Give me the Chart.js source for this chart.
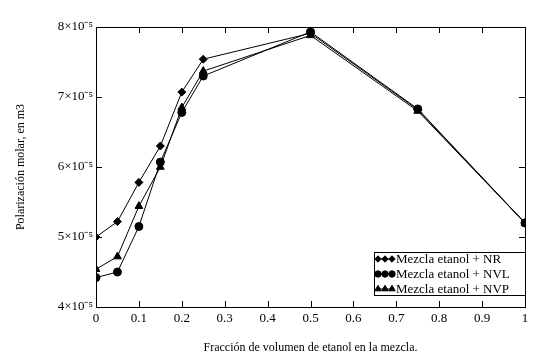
<!DOCTYPE html>
<html>
<head>
<meta charset="utf-8">
<script src="https://cdn.jsdelivr.net/npm/chart.js@4/dist/chart.umd.min.js"></script>
<style>
  body { margin: 0; background: #fff; }
</style>
</head>
<body>
<canvas id="myChart" width="551" height="362"></canvas>
<script>
// fracción de volumen de etanol
var fractions = [0, 0.05, 0.1, 0.15, 0.2, 0.25, 0.5, 0.75, 1];
// polarización molar (m3)
var nrValues  = [5.00e-5, 5.22e-5, 5.78e-5, 6.30e-5, 7.07e-5, 7.54e-5, 7.91e-5, 6.82e-5, 5.20e-5];
var nvlValues = [4.42e-5, 4.50e-5, 5.15e-5, 6.07e-5, 6.78e-5, 7.30e-5, 7.93e-5, 6.83e-5, 5.20e-5];
var nvpValues = [4.54e-5, 4.72e-5, 5.44e-5, 6.00e-5, 6.85e-5, 7.37e-5, 7.88e-5, 6.80e-5, 5.20e-5];
var seriesNames = ['Mezcla etanol + NR', 'Mezcla etanol + NVL', 'Mezcla etanol + NVP'];
var yTickLabels = ['4×10⁻⁵', '5×10⁻⁵', '6×10⁻⁵', '7×10⁻⁵', '8×10⁻⁵'];

var serif = "'Liberation Serif', 'Times New Roman', serif";

function pts(values) {
    return fractions.map(function (f, i) { return { x: f, y: values[i] }; });
}

function series(label, values, style, radius) {
    return {
        label: label,
        data: pts(values),
        borderColor: '#000',
        backgroundColor: '#000',
        borderWidth: 1,
        pointStyle: style,
        pointRadius: radius,
        pointBorderWidth: 1,
        tension: 0
    };
}

// marco, marcas de escala hacia dentro y leyenda dentro del área
var framePlugin = {
    id: 'framePlugin',
    afterDraw: function (chart) {
        var ctx = chart.ctx;
        var a = chart.chartArea;
        var xs = chart.scales.x, ys = chart.scales.y;
        ctx.save();
        ctx.strokeStyle = '#000';
        ctx.lineWidth = 1;
        ctx.strokeRect(Math.round(a.left) + 0.5, Math.round(a.top) + 0.5,
            Math.round(a.right - a.left), Math.round(a.bottom - a.top));
        ctx.beginPath();
        xs.ticks.forEach(function (t) {
            var px = Math.round(xs.getPixelForValue(t.value)) + 0.5;
            ctx.moveTo(px, a.bottom); ctx.lineTo(px, a.bottom - 6);
            ctx.moveTo(px, a.top); ctx.lineTo(px, a.top + 6);
        });
        ys.ticks.forEach(function (t) {
            var py = Math.round(ys.getPixelForValue(t.value)) + 0.5;
            ctx.moveTo(a.left, py); ctx.lineTo(a.left + 6, py);
            ctx.moveTo(a.right, py); ctx.lineTo(a.right - 6, py);
        });
        ctx.stroke();

        // leyenda
        var bx = 374, bw = Math.round(a.right) - bx, by = Math.round(a.bottom) - 55, bh = 43;
        ctx.fillStyle = '#fff';
        ctx.fillRect(bx, by, bw, bh);
        ctx.strokeRect(bx + 0.5, by + 0.5, bw, bh);
        ctx.font = '13px ' + serif;
        ctx.textBaseline = 'middle';
        ctx.textAlign = 'left';
        chart.data.datasets.forEach(function (ds, i) {
            var cy = by + 7 + i * 15;
            ctx.fillStyle = '#000';
            ctx.beginPath();
            ctx.moveTo(bx + 2, cy); ctx.lineTo(bx + 19, cy);
            ctx.stroke();
            for (var k = 0; k < 3; k++) {
                Chart.helpers.drawPoint(ctx, {
                    pointStyle: ds.pointStyle, radius: ds.pointRadius - 0.8,
                    rotation: 0, borderWidth: 1
                }, bx + 4 + k * 7, cy);
            }
            ctx.fillStyle = '#000';
            ctx.fillText(ds.label, bx + 22, cy + 1);
        });
        ctx.restore();
    }
};

var ctx = document.getElementById('myChart');

var myChart = new Chart(ctx, {
    type: 'line',
    data: {
        datasets: [
            series(seriesNames[0], nrValues, 'rectRot', 4),
            series(seriesNames[1], nvlValues, 'circle', 4),
            series(seriesNames[2], nvpValues, 'triangle', 4.5)
        ]
    },
    options: {
        responsive: false,
        animation: false,
        layout: { padding: { top: 27, right: 26, left: 0, bottom: 0 } },
        plugins: { legend: { display: false }, tooltip: { enabled: false } },
        scales: {
            x: {
                type: 'linear',
                min: 0, max: 1,
                grid: { display: false, drawTicks: false },
                border: { display: false },
                ticks: {
                    stepSize: 0.1, padding: 4, color: '#000',
                    font: { family: serif, size: 13 },
                    callback: function (v) { return String(Math.round(v * 10) / 10); }
                },
                title: {
                    display: true, text: 'Fracción de volumen de etanol en la mezcla.',
                    color: '#000', font: { family: serif, size: 12 },
                    padding: { top: 0, bottom: 7 }
                },
                afterFit: function (s) { s.height = 55; }
            },
            y: {
                min: 4e-5, max: 8e-5,
                grid: { display: false, drawTicks: false },
                border: { display: false },
                ticks: {
                    stepSize: 1e-5, padding: 3, color: '#000',
                    font: { family: serif, size: 13 },
                    callback: function (v) { return yTickLabels[Math.round(v * 1e5) - 4]; }
                },
                title: {
                    display: true, text: 'Polarización molar, en m3',
                    color: '#000', font: { family: serif, size: 12 },
                    padding: { top: 14, bottom: 0 }
                },
                afterFit: function (s) { s.width = 96; }
            }
        }
    },
    plugins: [framePlugin]
});
</script>
</body>
</html>
